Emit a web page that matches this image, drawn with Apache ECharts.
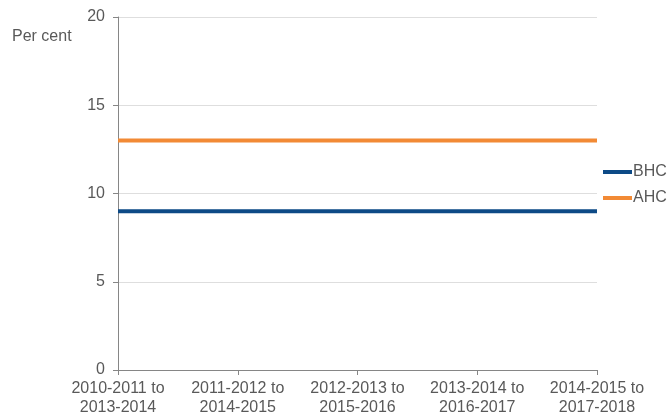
<!DOCTYPE html>
<html>
<head>
<meta charset="utf-8">
<script src="https://cdn.jsdelivr.net/npm/echarts@6/dist/echarts.min.js"></script>
<style>
  html, body { margin: 0; padding: 0; background: #fff; }
  #chart { width: 671px; height: 417px; }
</style>
</head>
<body>
<div id="chart"></div>
<script>
const categories = [
  '2010-2011 to\n2013-2014',
  '2011-2012 to\n2014-2015',
  '2012-2013 to\n2015-2016',
  '2013-2014 to\n2016-2017',
  '2014-2015 to\n2017-2018'
]
const bhc = [9, 9, 9, 9, 9]
const ahc = [13, 13, 13, 13, 13]

const textColor = '#595959'
const font = 'Liberation Sans, Arial, sans-serif'

const chart = echarts.init(document.getElementById('chart'))

chart.setOption({
  animation: false,
  textStyle: { fontFamily: font },
  title: {
    text: 'Per cent',
    left: 12,
    top: 29,
    padding: 0,
    textStyle: { fontSize: 16, fontWeight: 'normal', color: textColor, fontFamily: font }
  },
  grid: { left: 118, right: 74, top: 17, bottom: 46 },
  legend: {
    orient: 'vertical',
    left: 603,
    top: 164,
    padding: 0,
    itemWidth: 29,
    itemHeight: 4,
    itemGap: 10,
    icon: 'rect',
    textStyle: { fontSize: 16, color: textColor, padding: [0, 0, 0, -4] },
    data: ['BHC', 'AHC']
  },
  xAxis: {
    type: 'category',
    boundaryGap: false,
    data: categories,
    axisLine: { lineStyle: { color: '#868686', width: 1 } },
    axisTick: { show: true, length: 5, lineStyle: { color: '#868686' } },
    axisLabel: { fontSize: 16, lineHeight: 19, color: textColor, margin: 9, interval: 0 }
  },
  yAxis: {
    type: 'value',
    min: 0,
    max: 20,
    interval: 5,
    axisLine: { show: true, lineStyle: { color: '#868686', width: 1 } },
    axisTick: { show: true, length: 5, lineStyle: { color: '#868686' } },
    axisLabel: { fontSize: 16, color: textColor, margin: 13 },
    splitLine: { lineStyle: { color: '#dedede', width: 1 } }
  },
  series: [
    {
      name: 'BHC',
      type: 'line',
      data: bhc,
      symbol: 'none',
      lineStyle: { width: 4, color: '#0d4a86' },
      itemStyle: { color: '#0d4a86' }
    },
    {
      name: 'AHC',
      type: 'line',
      data: ahc,
      symbol: 'none',
      lineStyle: { width: 4, color: '#f28a35' },
      itemStyle: { color: '#f28a35' }
    }
  ]
})
</script>
</body>
</html>
